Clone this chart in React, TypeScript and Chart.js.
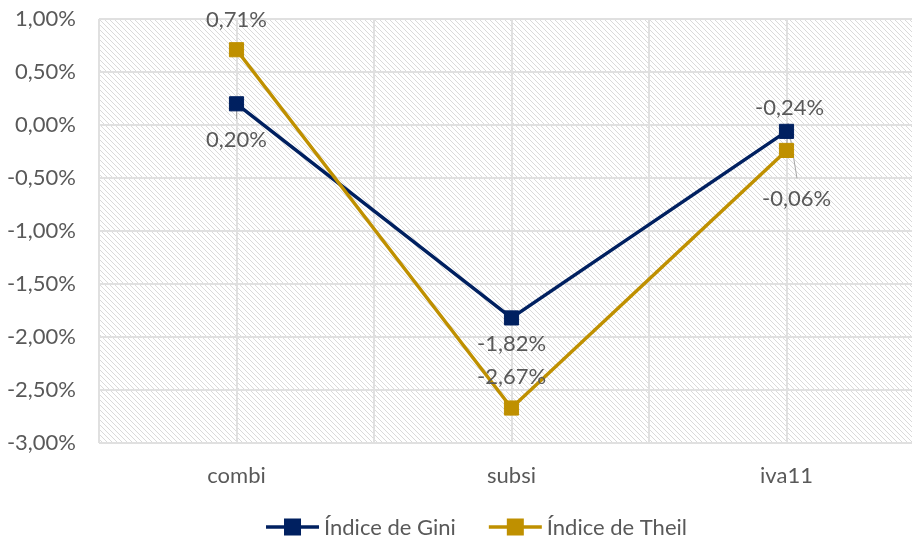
import React, { useEffect, useRef } from 'react';
import { Chart, registerables } from 'chart.js';

Chart.register(...registerables);

const categories = ['combi', 'subsi', 'iva11'];
const seriesNames = ['Índice de Gini', 'Índice de Theil'];
const giniValues = [0.2, -1.82, -0.06];
const theilValues = [0.71, -2.67, -0.24];
const yMin = -3;
const yMax = 1;
const yStep = 0.5;

const COLORS = ['#002060', '#BF9000'];
const TEXT = '#595959';
const FONT_FAMILY = 'Lato, "Noto Sans", sans-serif';
const FONT_SIZE = 22;

// label placement (pixel offsets from each point), kept apart from data
const labelOffsets = [
  [{ dx: 0, dy: 35 }, { dx: 0, dy: 25 }, { dx: 10, dy: 67 }],
  [{ dx: 0, dy: -31 }, { dx: 0, dy: -32 }, { dx: 3, dy: -43 }],
];
// leader lines: [series, index, x1, y1, x2, y2] relative to the point
const leaders: number[][] = [
  [0, 0, 0, 2, 0, 15],
  [0, 2, 1.5, -8, 10.5, 47],
  [1, 2, 1.5, -27, 0, 0],
];

const fmt = (v: number) => v.toFixed(2).replace('.', ',') + '%';

function makePattern(): CanvasPattern | string {
  const c = document.createElement('canvas');
  const n = 5;
  c.width = n;
  c.height = n;
  const g = c.getContext('2d');
  if (!g) return '#eee';
  g.fillStyle = '#ffffff';
  g.fillRect(0, 0, n, n);
  g.fillStyle = '#dadada';
  for (let y = 0; y < n; y++) {
    for (let x = 0; x < n; x++) {
      if (((x - y) % n + n) % n === 0) g.fillRect(x, y, 1, 1);
    }
  }
  const ctx = document.createElement('canvas').getContext('2d');
  return (ctx && ctx.createPattern(c, 'repeat')) || '#eee';
}

export default function App() {
  const ref = useRef<HTMLCanvasElement | null>(null);

  useEffect(() => {
    const canvas = ref.current;
    if (!canvas) return;
    const pattern = makePattern();
    const font = { family: FONT_FAMILY, size: FONT_SIZE };

    const bgPlugin = {
      id: 'bgHatch',
      beforeDraw(chart: any) {
        const { ctx, chartArea: a } = chart;
        ctx.save();
        ctx.fillStyle = '#ffffff';
        ctx.fillRect(0, 0, chart.width, chart.height);
        ctx.fillStyle = pattern;
        ctx.fillRect(a.left, a.top, a.right - a.left, a.bottom - a.top);
        ctx.restore();
      },
    };

    const labelPlugin = {
      id: 'labels',
      beforeDatasetsDraw(chart: any) {
        const { ctx } = chart;
        ctx.save();
        ctx.strokeStyle = '#a6a6a6';
        ctx.lineWidth = 1;
        leaders.forEach(([s, i, x1, y1, x2, y2]) => {
          const p = chart.getDatasetMeta(s).data[i];
          ctx.beginPath();
          ctx.moveTo(p.x + x1, p.y + y1);
          ctx.lineTo(p.x + x2, p.y + y2);
          ctx.stroke();
        });
        ctx.restore();
      },
      afterDatasetsDraw(chart: any) {
        const { ctx } = chart;
        ctx.save();
        ctx.font = `${FONT_SIZE}px ${FONT_FAMILY}`;
        ctx.fillStyle = TEXT;
        ctx.textAlign = 'center';
        ctx.textBaseline = 'alphabetic';
        chart.data.datasets.forEach((ds: any, s: number) => {
          const meta = chart.getDatasetMeta(s);
          ds.data.forEach((d: any, i: number) => {
            const p = meta.data[i];
            const o = labelOffsets[s][i];
            ctx.fillText(fmt(d.y), p.x + o.dx, p.y + o.dy + 8);
          });
        });
        ctx.restore();
      },
      afterDraw(chart: any) {
        const { ctx } = chart;
        ctx.save();
        ctx.font = `${FONT_SIZE}px ${FONT_FAMILY}`;
        const lineLen = 53;
        const gapText = 5;
        const gapItems = 33;
        const widths = seriesNames.map((n) => ctx.measureText(n).width);
        const total =
          widths.reduce((a, w) => a + lineLen + gapText + w, 0) + gapItems * (seriesNames.length - 1);
        let x = chart.width / 2 - total / 2;
        const y = 527;
        seriesNames.forEach((name, k) => {
          ctx.strokeStyle = COLORS[k];
          ctx.lineWidth = 3.5;
          ctx.beginPath();
          ctx.moveTo(x, y);
          ctx.lineTo(x + lineLen, y);
          ctx.stroke();
          ctx.fillStyle = COLORS[k];
          ctx.fillRect(x + lineLen / 2 - 8.5, y - 8.5, 17, 17);
          ctx.fillStyle = TEXT;
          ctx.textAlign = 'left';
          ctx.textBaseline = 'alphabetic';
          ctx.fillText(name, x + lineLen + gapText, y + 8);
          x += lineLen + gapText + widths[k] + gapItems;
        });
        ctx.restore();
      },
    };

    const chart = new Chart(canvas, {
      type: 'line',
      data: {
        datasets: [giniValues, theilValues].map((vals, k) => ({
          label: seriesNames[k],
          data: vals.map((v, i) => ({ x: i, y: v })),
          borderColor: COLORS[k],
          backgroundColor: COLORS[k],
          borderWidth: 3.5,
          pointStyle: 'rect',
          pointRadius: 10,
          pointBorderWidth: 1,
          pointBorderColor: COLORS[k],
          pointBackgroundColor: COLORS[k],
          tension: 0,
          fill: false,
          order: 1 - k,
        })),
      },
      options: {
        responsive: false,
        animation: false,
        devicePixelRatio: 1,
        layout: { padding: { left: 0, right: 29, top: 19, bottom: 45 } },
        plugins: { legend: { display: false }, tooltip: { enabled: false } },
        scales: {
          x: {
            type: 'linear',
            min: -0.5,
            max: 2.5,
            afterFit: (s: any) => {
              s.height = 50;
              s.paddingLeft = 0;
              s.paddingRight = 0;
            },
            ticks: {
              stepSize: 0.5,
              autoSkip: false,
              maxRotation: 0,
              padding: 20,
              color: TEXT,
              font,
              callback: (v: any) => {
                const r = Math.round(v);
                return Math.abs(v - r) < 1e-6 && categories[r] !== undefined ? categories[r] : '';
              },
            },
            grid: { color: '#e0e0e0', lineWidth: 2, drawTicks: false },
            border: { display: false },
          },
          y: {
            min: yMin,
            max: yMax,
            afterFit: (s: any) => {
              s.width = 99;
              s.paddingTop = 0;
              s.paddingBottom = 0;
            },
            ticks: {
              stepSize: yStep,
              padding: 23,
              color: TEXT,
              font,
              callback: (v: any) => fmt(Number(v)),
            },
            grid: { color: '#e0e0e0', lineWidth: 2, drawTicks: false },
            border: { display: false },
          },
        },
      },
      plugins: [bgPlugin, labelPlugin],
    } as any);

    return () => chart.destroy();
  }, []);

  return (
    <div
      style={{
        position: 'absolute',
        left: 0,
        top: 0,
        width: 912,
        height: 538,
        overflow: 'hidden',
        background: '#fff',
      }}
    >
      <canvas ref={ref} width={953} height={538} style={{ display: 'block' }} />
    </div>
  );
}
